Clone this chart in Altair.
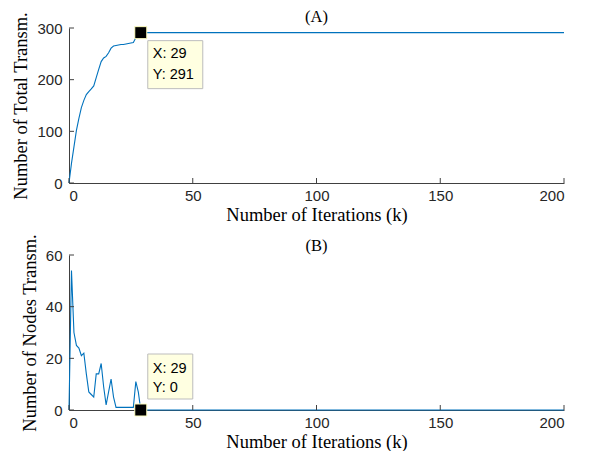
import altair as alt
import pandas as pd

# ---- data ----
k_top = list(range(0, 30)) + [200]
total_tx = [0, 38, 70, 102, 125, 146, 160, 171, 177, 182, 188, 204, 220, 235, 242,
            245, 252, 261, 265, 266, 267, 268, 268, 269, 270, 271, 272, 281, 286, 291, 291]
k_bot = list(range(0, 30)) + [200]
nodes_tx = [0, 54, 30, 25, 24, 21, 22, 14, 7, 6, 5, 14, 14, 18, 9,
            2, 7, 12, 5, 1, 1, 1, 1, 1, 1, 1, 1, 11, 7, 0, 0]
x_ticks = [0, 50, 100, 150, 200]
y_ticks_top = [0, 100, 200, 300]
y_ticks_bot = [0, 20, 40, 60]
tip_k = 29
tip_top = 291
tip_bot = 0

W, H = 495, 155
LINE = "#0072BD"
AX = "#404040"
SERIF = "Liberation Serif"
SANS = "Liberation Sans"
FS = 18.5


def panel(ks, vs, ymax, yticks, ytitle, title, tip_v, box_below, toff):
    df = pd.DataFrame({"k": ks, "v": vs})
    xs = alt.Scale(domain=[0, 200], nice=False)
    ys = alt.Scale(domain=[0, ymax], nice=False)
    x = alt.X("k:Q", scale=xs,
              axis=alt.Axis(values=x_ticks, ticks=False, grid=False,
                            title="Number of Iterations (k)"))
    y = alt.Y("v:Q", scale=ys,
              axis=alt.Axis(values=yticks, ticks=False, grid=False, title=ytitle))
    line = alt.Chart(df).mark_line(color=LINE, strokeWidth=1.1).encode(x=x, y=y)

    xt = pd.DataFrame({"t": x_ticks})
    xtick = alt.Chart(xt).mark_rule(color=AX, strokeWidth=1).encode(
        x=alt.X("t:Q", scale=xs), y=alt.value(H), y2=alt.value(H - 5))
    yt = pd.DataFrame({"t": yticks})
    ytick = alt.Chart(yt).mark_rule(color=AX, strokeWidth=1).encode(
        y=alt.Y("t:Q", scale=ys), x=alt.value(0), x2=alt.value(5))

    tip = pd.DataFrame({"k": [tip_k], "v": [tip_v],
                        "l1": [f"X: {tip_k}"], "l2": [f"Y: {tip_v}"]})
    enc = dict(x=alt.X("k:Q", scale=xs), y=alt.Y("v:Q", scale=ys))
    if box_below:
        box = alt.Chart(tip).mark_rect(fill="#FFFFE1", stroke="#BDBDBD", strokeWidth=1,
                                       xOffset=7, x2Offset=62, yOffset=8, y2Offset=56).encode(
            x2="k:Q", y2="v:Q", **enc)
        d1, d2 = 21, 42
    else:
        box = alt.Chart(tip).mark_rect(fill="#FFFFE1", stroke="#BDBDBD", strokeWidth=1,
                                       xOffset=7, x2Offset=52, yOffset=-56, y2Offset=-11).encode(
            x2="k:Q", y2="v:Q", **enc)
        d1, d2 = -41, -22
    t1 = alt.Chart(tip).mark_text(align="left", baseline="middle", dx=12, dy=d1,
                                  font=SANS, fontSize=14.5, color="#000000").encode(text="l1:N", **enc)
    t2 = alt.Chart(tip).mark_text(align="left", baseline="middle", dx=12, dy=d2,
                                  font=SANS, fontSize=14.5, color="#000000").encode(text="l2:N", **enc)
    marker = alt.Chart(tip).mark_square(size=144, filled=True, fill="#000000",
                                        stroke="#FFFFC0", strokeWidth=1, opacity=1).encode(**enc)

    return alt.layer(line, xtick, ytick, box, t1, t2, marker).properties(
        width=W, height=H,
        title=alt.TitleParams(title, font=SERIF, fontSize=16.5, fontWeight="normal",
                              color="#000000", offset=toff, frame="group"))


top = panel(k_top, total_tx, 300, y_ticks_top, "Number of Total Transm.", "(A)", tip_top, True, -14)
bot = panel(k_bot, nodes_tx, 60, y_ticks_bot, "Number of Nodes Transm.", "(B)", tip_bot, False, -21)

chart = alt.vconcat(top, bot, spacing=9).properties(
    padding={"left": 3, "top": 0, "right": 5, "bottom": 0}
).configure_view(stroke=None).configure_axis(
    domainColor=AX, domainWidth=1,
    labelFont=SANS, labelFontSize=15, labelColor="#262626", labelPadding=7,
    titleFont=SERIF, titleFontSize=FS, titleFontWeight="normal", titleColor="#000000",
    titlePadding=6,
).configure_axisX(labelPadding=5, titlePadding=2)

chart.save("out.html", embed_options={"renderer": "svg", "actions": False})
